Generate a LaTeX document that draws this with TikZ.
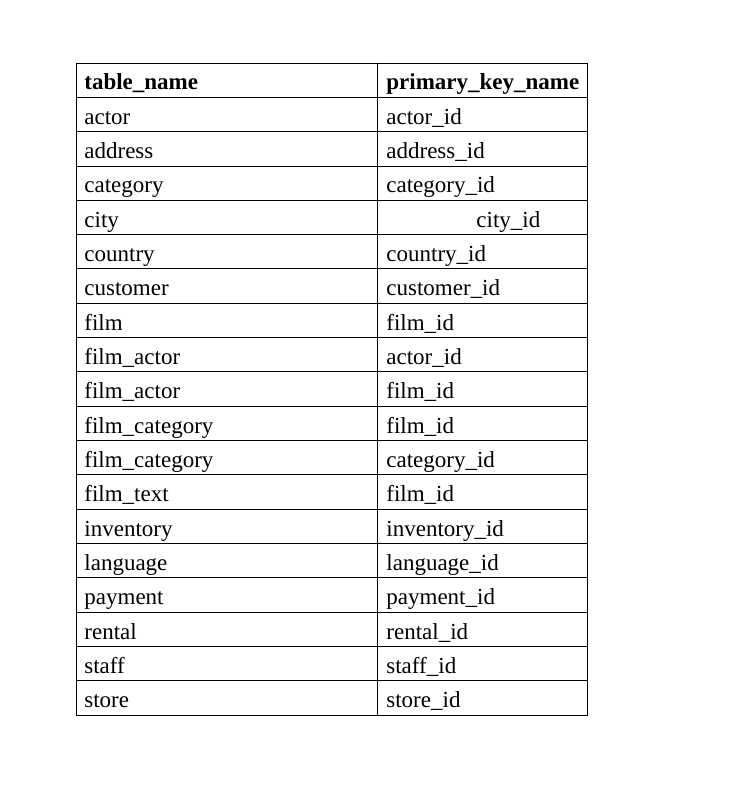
\documentclass[tikz,border=0pt]{standalone}
\usepackage{fontspec}
\setmainfont{Liberation Serif}
\usetikzlibrary{positioning}

\begin{document}
\begin{tikzpicture}[x=1pt, y=-1pt, line width=0.8pt,
    cell/.style={anchor=base west, inner sep=0pt, font=\fontsize{23}{27}\selectfont},
    headcell/.style={cell, font=\fontsize{23}{27}\selectfont\bfseries}]
        \useasboundingbox (0,0) rectangle (733,789);
        % outer frame and column divider
        \draw (76,63) rectangle (587,715);
        \draw (377,63) -- (377,715);
        % row rules
        \foreach \k in {1,...,18}
          \draw (76,63+\k*34.316) -- (587,63+\k*34.316);
        % header row
        \node[headcell] (tn0) at (84,90) {table\_name};
        \node[headcell] (pk0) at (386,90) {primary\_key\_name};
        % data rows: row / table / key / x of key
        \foreach \k/\tname/\pkey/\px in
          {1/actor/actor\_id/386, 2/address/address\_id/386,
           3/category/category\_id/386, 4/city/city\_id/476,
           5/country/country\_id/386, 6/customer/customer\_id/386,
           7/film/film\_id/386, 8/film\_actor/actor\_id/386,
           9/film\_actor/film\_id/386, 10/film\_category/film\_id/386,
           11/film\_category/category\_id/386, 12/film\_text/film\_id/386,
           13/inventory/inventory\_id/386, 14/language/language\_id/386,
           15/payment/payment\_id/386, 16/rental/rental\_id/386,
           17/staff/staff\_id/386, 18/store/store\_id/386} {
          \node[cell] (tn\k) at (84,63+\k*34.316+27) {\tname};
          \node[cell] (pk\k) at (\px,63+\k*34.316+27) {\pkey};
        }
      \end{tikzpicture}
\end{document}
